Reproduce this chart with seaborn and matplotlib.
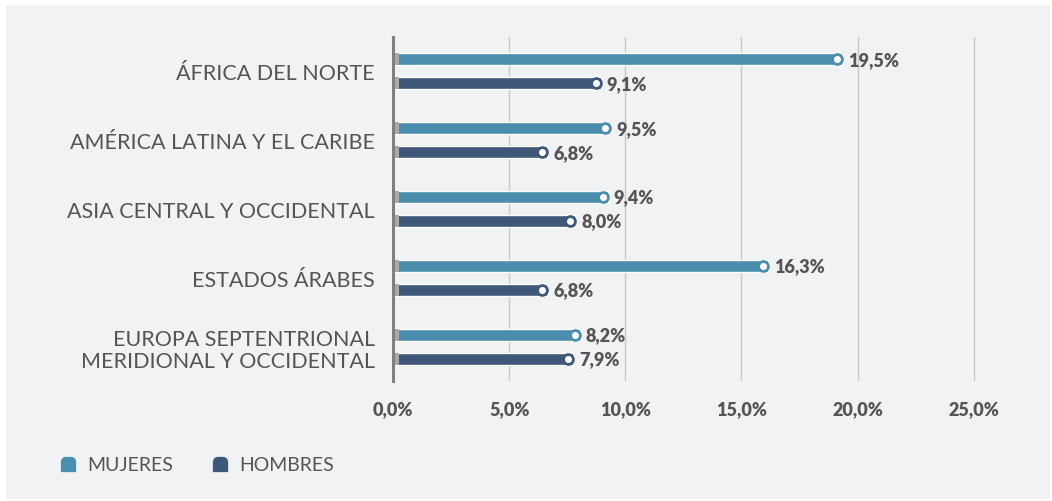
import matplotlib
matplotlib.use("Agg")
import matplotlib.pyplot as plt
import seaborn as sns
import pandas as pd
from matplotlib.patches import Rectangle
from matplotlib.lines import Line2D
from matplotlib.path import Path

regions = ["ÁFRICA DEL NORTE", "AMÉRICA LATINA Y EL CARIBE", "ASIA CENTRAL Y OCCIDENTAL",
           "ESTADOS ÁRABES", "EUROPA SEPTENTRIONAL\nMERIDIONAL Y OCCIDENTAL"]
mujeres = [19.5, 9.5, 9.4, 16.3, 8.2]
hombres = [9.1, 6.8, 8.0, 6.8, 7.9]
series = ["MUJERES", "HOMBRES"]
colors = ["#4a8dad", "#3f5879"]
xticks = [0, 5, 10, 15, 20, 25]

df = pd.DataFrame({
    "region": regions * 2,
    "value": mujeres + hombres,
    "sexo": [series[0]] * len(regions) + [series[1]] * len(regions),
})

sns.set_theme(style="white")
plt.rcParams["font.family"] = ["Lato", "DejaVu Sans"]

BG = "#f1f2f4"
fig = plt.figure(figsize=(10.52, 5.02), dpi=100, facecolor="white")
fig.patches.append(Rectangle((6 / 1052, 2 / 502), 1 - 8 / 1052, 1 - 8 / 502,
                             transform=fig.transFigure, facecolor=BG, edgecolor="none", zorder=-5))
ax = fig.add_axes([393 / 1052, 1 - 382 / 502, (990 - 393) / 1052, 344 / 502])
ax.set_facecolor(BG)

sns.barplot(data=df, y="region", x="value", hue="sexo", orient="h",
            palette=colors, width=0.7, gap=0.5, ax=ax, legend=False,
            saturation=1, zorder=3)

ax.set_xlim(0, 25.7)
ax.set_ylim(4.5, -0.5)

# gray start segments, end markers, value labels derived from the bar patches
bars = [p for p in ax.patches if p.get_width() > 0]
for p in bars:
    y0 = p.get_y()
    h = p.get_height()
    w = p.get_width()
    col = p.get_facecolor()
    p.set_width(w - 0.15)
    ax.add_patch(Rectangle((0, y0), 0.27, h, facecolor="#a9a9a9", edgecolor="none", zorder=4))
    ax.scatter([w - 0.38], [y0 + h / 2], s=50, facecolor="white", edgecolor=col,
               linewidth=2.0, zorder=5)
    ax.text(w + 0.1, y0 + h / 2, f"{w:.1f}%".replace(".", ","), va="center", ha="left",
            fontsize=13, fontweight="heavy", color="#555555", zorder=6)

ax.set_xticks(xticks)
ax.set_xticklabels([f"{t:.1f}%".replace(".", ",") for t in xticks],
                   fontsize=13, fontweight="heavy", color="#555555")
ax.tick_params(axis="x", length=0, pad=14)
ax.tick_params(axis="y", length=0, pad=13, labelsize=15.5, labelcolor="#555555")
for lab in ax.get_yticklabels():
    lab.set_fontweight("normal")
    lab.set_horizontalalignment("right")
    lab.set_multialignment("right")
    lab.set_linespacing(1.12)
ax.set_yticks([0.5, 1.5, 2.5, 3.5], minor=True)
ax.tick_params(axis="y", which="minor", length=11, width=1.2, color="#9a9a9a", direction="inout")

for t in xticks[1:]:
    ax.axvline(t, color="#c9c9c9", linewidth=1, zorder=1)
for s in ["top", "right", "bottom"]:
    ax.spines[s].set_visible(False)
ax.spines["left"].set_color("#808080")
ax.spines["left"].set_linewidth(2.2)
ax.spines["left"].set_zorder(7)
ax.set_xlabel("")
ax.set_ylabel("")

# legend with rounded-top square markers
verts = [(-1, -1), (1, -1), (1, 0.3), (1, 1), (0.3, 1), (-0.3, 1), (-1, 1), (-1, 0.3), (-1, -1)]
codes = [Path.MOVETO, Path.LINETO, Path.LINETO, Path.CURVE3, Path.CURVE3, Path.LINETO,
         Path.CURVE3, Path.CURVE3, Path.CLOSEPOLY]
bullet = Path(verts, codes)
handles = [Line2D([], [], marker=bullet, linestyle="none", markersize=10, markerfacecolor=c,
                  markeredgecolor=c) for c in colors]
leg = fig.legend(handles, series, loc="center left", bbox_to_anchor=(58 / 1052, 1 - 466 / 502),
                 ncol=2, frameon=False, handlelength=1.0, handletextpad=0.5, columnspacing=1.9,
                 borderpad=0, borderaxespad=0,
                 prop={"family": ["Lato", "DejaVu Sans"], "size": 14, "weight": "normal"})
for t in leg.get_texts():
    t.set_color("#555555")

fig.savefig("out.png", dpi=100, facecolor=fig.get_facecolor())
